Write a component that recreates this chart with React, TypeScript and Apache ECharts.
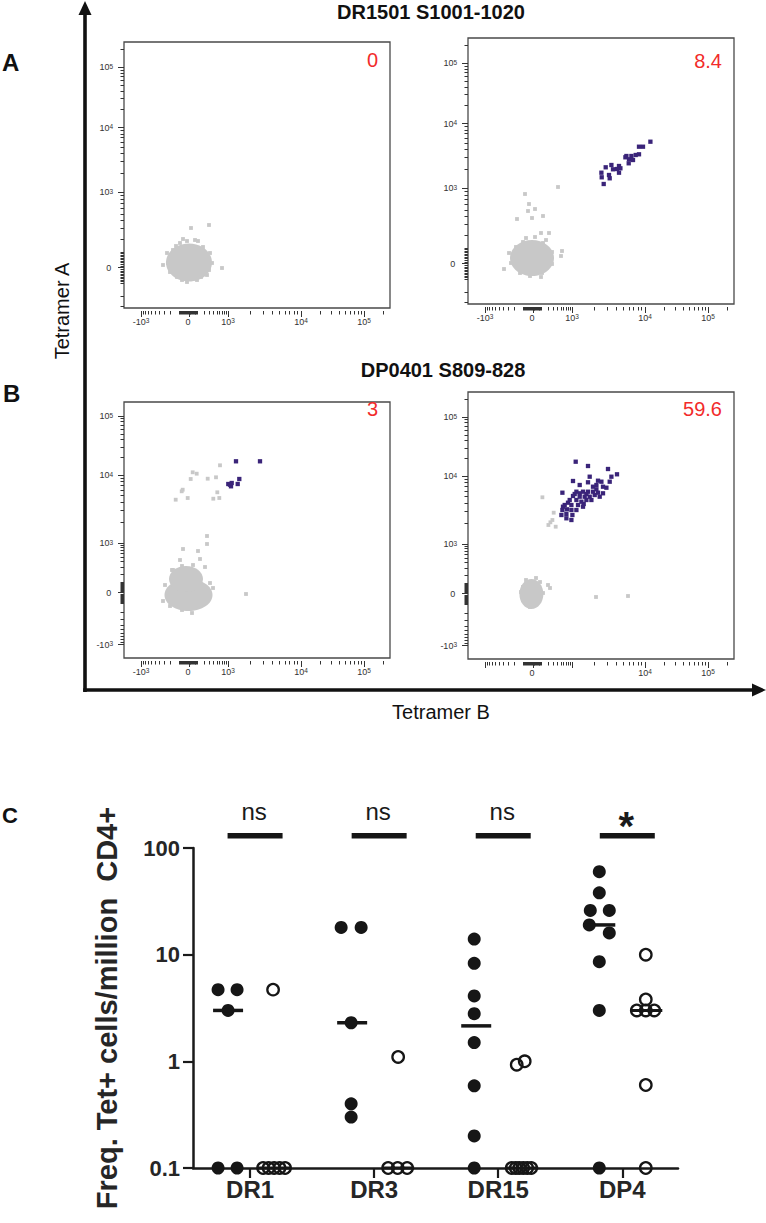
import React, { useEffect, useRef } from "react";
import * as echarts from "echarts";

const FONT = "'Liberation Sans', Arial, Helvetica, sans-serif";

// ---------------- Panels A & B : flow cytometry (display channels) ----------------
const DECADE_VALUES = [-1000, 0, 1000, 10000, 100000];
const DECADE_BASE = ["-10", "0", "10", "10", "10"];
const DECADE_EXP = ["3", "", "3", "4", "5"];
const X_DECADE_CH = [17, 65, 104, 177, 240];
const A_Y_DECADE_CH = [-35, 40.5, 115.7, 180.5, 241];
const B_Y_DECADE_CH = [13.5, 65.3, 115, 183, 242];

const PANEL_TITLES = ["DR1501 S1001-1020", "DP0401 S809-828"];
const GATE_PERCENT = ["0", "8.4", "3", "59.6"];
const X_LABELS_SHOWN = [[0, 1, 2, 3, 4], [0, 1, 2, 3, 4], [0, 1, 2, 3, 4], [1, 3, 4]];
const Y_LABELS_SHOWN = [[1, 2, 3, 4], [1, 2, 3, 4], [0, 1, 2, 3, 4], [0, 1, 2, 3, 4]];

// dense populations: [centre x, centre y, spread x, spread y]
const A1_CORE = [[65, 45.5, 23, 19]];
const A2_CORE = [[64, 46, 22, 18]];
const B1_CORE = [[64.5, 63, 24, 16], [62, 79, 17, 13]];
const B2_CORE = [[63.4, 65, 12, 15]];

const A1_GRAY = [
  [43, 55], [44, 45], [49, 58], [56, 65], [63, 67], [71, 68], [79, 61], [86, 55], [88, 45], [83, 33],
  [73, 28], [63, 26], [53, 31], [46, 36], [67, 80], [85, 83], [39, 43], [98, 40], [59, 69], [74, 67],
  [48, 40], [52, 62], [82, 52], [77, 31], [58, 28], [85, 38],
];
const A1_PURPLE: number[][] = [];

const A2_GRAY = [
  [41, 51], [43, 41], [48, 57], [58, 66], [67, 67], [75, 61], [84, 52], [84, 40], [74, 31], [62, 28],
  [52, 31], [78, 64], [55, 62], [36, 35], [57, 110], [61, 100], [60, 93], [67, 95], [64, 86], [49, 85],
  [75, 88], [90, 117], [73, 71], [81, 71], [94, 53], [93, 48], [73, 27],
];
const A2_PURPLE = [
  [182.4, 162.3], [175, 157.3], [171, 157.3], [167.7, 149], [171, 149.7], [163.4, 148], [158.4, 148],
  [161, 144.7], [160.7, 140.7], [157.4, 146.7], [151, 138], [152.4, 135.7], [149, 135], [151, 131.3],
  [145, 134.7], [143.4, 139], [137.7, 136.7], [141, 129], [141.7, 125.7], [133.4, 131.3], [133.7, 126.7],
  [135.7, 120], [165, 144],
];

const B1_GRAY = [
  [39, 57], [41, 73], [49, 88], [58, 92], [69, 93], [76, 99], [81, 91], [86, 75], [89, 70], [83, 57],
  [68, 45], [58, 48], [46, 52], [59, 109], [74, 107], [83, 122], [83, 114], [56, 98], [48, 88], [122, 64],
  [96, 192.7], [68.7, 185.7], [72.7, 184.3], [66.7, 179], [58.7, 168.3], [57.7, 166.7], [51.7, 158.3],
  [63.7, 160], [83.7, 179.3], [92, 180.7], [89.3, 159.3], [95.3, 160], [93.3, 165.7],
];
const B1_PURPLE = [
  [112, 196.7], [136, 196.7], [115.3, 179], [113.7, 174], [106, 173.3], [104.3, 174], [107, 171.7], [107.7, 175],
];

const B2_GRAY = [
  [55, 72], [58, 79], [68, 81], [72, 77], [75, 66], [70, 57], [62, 52], [55, 59], [53, 67], [80, 74],
  [82, 71], [128, 62], [160, 63], [74.4, 161.7], [85.7, 146.3], [82.4, 136.7], [84.4, 139], [87.7, 132.3],
  [80.4, 134],
];
const B2_PURPLE = [
  [107.7, 197.3], [120, 193], [140, 190], [149, 184.7], [143.4, 182.3], [121.7, 182.3], [105, 178],
  [130, 178.3], [133.4, 177.3], [141.7, 177.3], [111.7, 174], [120, 176.7], [128.4, 174], [135, 172.3],
  [138.4, 171.3], [94.4, 166.3], [108.4, 167.3], [115, 167.3], [120, 167.3], [125, 167.3], [130, 166.3],
  [135, 165.7], [105, 163], [111.7, 162.3], [116.7, 162.3], [121.7, 162.3], [126.7, 164], [131.7, 162.3],
  [108.4, 159], [113.4, 157.3], [118.4, 159], [123.4, 159], [100, 156.3], [96.7, 154], [103.4, 154],
  [110, 154], [115.7, 155], [94.4, 149], [99, 149.7], [103.4, 149], [108.4, 149], [93.4, 144], [98.4, 145],
  [104.4, 144], [103.4, 139], [98.4, 140.7], [106.7, 165], [118.4, 165], [128.4, 169.7], [125, 172.3],
  [111.7, 165.7], [95, 152.3], [101.7, 159], [115, 152.3],
];

const FLOW_CORES = [A1_CORE, A2_CORE, B1_CORE, B2_CORE];
const FLOW_GRAY = [A1_GRAY, A2_GRAY, B1_GRAY, B2_GRAY];
const FLOW_PURPLE = [A1_PURPLE, A2_PURPLE, B1_PURPLE, B2_PURPLE];

// ---------------- Panel C ----------------
const C_CATS = ["DR1", "DR3", "DR15", "DP4"];
const C_FILLED = [
  [4.7, 4.7, 3.0, 0.1, 0.1],
  [18, 18, 2.3, 0.4, 0.3],
  [14, 8.3, 4.1, 2.8, 1.5, 0.59, 0.2, 0.1],
  [60, 38, 26, 26, 19, 16, 8.6, 3.0, 0.1],
];
const C_OPEN = [
  [4.7, 0.1, 0.1, 0.1, 0.1, 0.1],
  [1.1, 0.1, 0.1, 0.1],
  [0.93, 1.0, 0.1, 0.1, 0.1, 0.1, 0.1, 0.1],
  [10, 3.8, 3.0, 3.0, 3.0, 0.6, 0.1],
];
const C_SIG = ["ns", "ns", "ns", "*"];

// ---------------- layout ----------------
const FLOW_LAYOUT = [
  { left: 124, top: 42, width: 266, height: 266, pctY: 60 },
  { left: 468, top: 38, width: 266, height: 266, pctY: 61 },
  { left: 124, top: 402, width: 266, height: 256, pctY: 409 },
  { left: 468, top: 392, width: 266, height: 267, pctY: 409 },
];
const C_GRID = { left: 193, top: 848, width: 485, height: 320 };
const C_XMIN = 0.54;
const C_XMAX = 4.449;
const PX_PER_CAT = C_GRID.width / (C_XMAX - C_XMIN);
// beeswarm offsets (px) from category centre
const C_FILLED_JIT = [
  [-32, -13, -22, -32, -13],
  [-33, -13, -23, -23, -23],
  [-24, -24, -24, -24, -24, -24, -24, -24],
  [-23, -23, -32, -13, -33, -13, -23, -23, -23],
];
const C_OPEN_JIT = [
  [23, 13, 18.5, 24, 29.5, 35],
  [24, 14, 23.5, 33],
  [18.5, 26.5, 13.5, 17.5, 21, 25, 29, 33],
  [23.5, 23.5, 14.5, 23.5, 32, 23.5, 23.5],
];

function decadeMap(pos: number[]) {
  const [pn, p0, p3, p4, p5] = pos;
  const w = 200;
  const A = Math.asinh(1000 / w);
  return (v: number) => {
    if (v >= 1000) {
      const k = Math.log10(v);
      return k <= 4 ? p3 + (k - 3) * (p4 - p3) : p4 + (k - 4) * (p5 - p4);
    }
    if (v <= -1000) return pn - (Math.log10(-v) - 3) * (p4 - p3);
    if (v >= 0) return p0 + ((p3 - p0) * Math.asinh(v / w)) / A;
    return p0 - ((p0 - pn) * Math.asinh(-v / w)) / A;
  };
}

function minorTicks(pos: number[], max: number) {
  const f = decadeMap(pos);
  const out: number[] = [];
  for (const d of [10, 100, 1000, 10000, 100000]) {
    for (let m = 1; m <= 9; m++) {
      if (m === 1 && d >= 1000) continue;
      for (const s of [1, -1]) {
        if (s < 0 && d > 1000) continue;
        const p = f(s * d * m);
        if (p >= 0 && p <= max) out.push(p);
      }
    }
  }
  return out;
}

function median(a: number[]) {
  const s = [...a].sort((x, y) => x - y);
  const n = s.length;
  return n % 2 ? s[(n - 1) / 2] : (s[n / 2 - 1] + s[n / 2]) / 2;
}

const labelRich = {
  b: { fontSize: 9, lineHeight: 9, color: "#333", fontFamily: FONT, verticalAlign: "bottom" },
  s: { fontSize: 6.5, lineHeight: 7, padding: [0, 0, 6, 0], color: "#333", fontFamily: FONT, verticalAlign: "top" },
};

function flowAxes(i: number, dim: "x" | "y", pos: number[], max: number, shown: number[]) {
  const base: any = {
    gridIndex: i,
    type: "value",
    min: 0,
    max,
    position: dim === "x" ? "bottom" : "left",
    offset: dim === "x" ? 3 : 0,
    axisLine: { show: false, onZero: false },
    splitLine: { show: false },
  };
  const majors = pos.filter((p) => p >= 0 && p <= max);
  const labelPos = shown.map((k) => pos[k]).filter((p) => p >= 0 && p <= max);
  const major = {
    ...base,
    axisTick: { show: true, customValues: majors, length: 6, lineStyle: { color: "#333", width: 1 } },
    axisLabel: {
      show: true,
      customValues: labelPos,
      margin: dim === "x" ? 6 : 11,
      formatter: (v: number) => {
        const k = pos.findIndex((p) => Math.abs(p - v) < 1e-6);
        if (k < 0) return "";
        return `{b|${DECADE_BASE[k]}}{s|${DECADE_EXP[k] || " "}}`;
      },
      rich: labelRich,
    },
  };
  const minor = {
    ...base,
    axisTick: { show: true, customValues: minorTicks(pos, max), length: 3.5, lineStyle: { color: "#333", width: 1 } },
    axisLabel: { show: false },
  };
  return [major, minor];
}

function buildOption() {
  const grid: any[] = [];
  const xAxis: any[] = [];
  const yAxis: any[] = [];
  const series: any[] = [];
  const graphic: any[] = [];

  FLOW_LAYOUT.forEach((g, i) => {
    grid.push({
      left: g.left, top: g.top, width: g.width, height: g.height,
      show: true, borderColor: "#4a4a4a", borderWidth: 1.3, backgroundColor: "transparent",
    });
    const yPos = i < 2 ? A_Y_DECADE_CH : B_Y_DECADE_CH;
    xAxis.push(...flowAxes(i, "x", X_DECADE_CH, g.width, X_LABELS_SHOWN[i]));
    yAxis.push(...flowAxes(i, "y", yPos, g.height, Y_LABELS_SHOWN[i]));
    series.push({
      type: "custom",
      xAxisIndex: 2 * i,
      yAxisIndex: 2 * i,
      data: FLOW_CORES[i],
      renderItem: (_p: any, api: any) => {
        const c = api.coord([api.value(0), api.value(1)]);
        const s = api.size([api.value(2), api.value(3)]);
        return { type: "ellipse", shape: { cx: c[0], cy: c[1], rx: s[0], ry: s[1] }, style: { fill: "#c8c8c8" } };
      },
      z: 1,
    });
    series.push({
      type: "scatter", xAxisIndex: 2 * i, yAxisIndex: 2 * i, data: FLOW_GRAY[i],
      symbol: "rect", symbolSize: 3.8, itemStyle: { color: "#c8c8c8", opacity: 1 }, z: 2,
    });
    series.push({
      type: "scatter", xAxisIndex: 2 * i, yAxisIndex: 2 * i, data: FLOW_PURPLE[i],
      symbol: "rect", symbolSize: 4.3, itemStyle: { color: "#3a2479", opacity: 1 }, z: 3,
    });
    graphic.push({
      type: "text",
      x: g.left + g.width - 12,
      y: g.pctY,
      style: {
        text: GATE_PERCENT[i], fill: "#f22b2b", fontSize: 20, fontFamily: FONT,
        textAlign: "right", align: "right", textVerticalAlign: "middle", verticalAlign: "middle",
      },
    });
  });

  // ---------- panel C ----------
  grid.push({ ...C_GRID });
  xAxis.push({
    gridIndex: 4, type: "value", min: C_XMIN, max: C_XMAX,
    axisLine: { show: true, onZero: false, lineStyle: { color: "#1a1a1a", width: 2.5 } },
    axisTick: { show: true, customValues: [1, 2, 3, 4], length: 10, lineStyle: { color: "#1a1a1a", width: 2.2 } },
    axisLabel: {
      customValues: [1, 2, 3, 4], margin: 9,
      formatter: (v: number) => C_CATS[Math.round(v) - 1] || "",
      fontSize: 24, fontWeight: "bold", color: "#262626", fontFamily: FONT,
    },
    splitLine: { show: false },
  });
  yAxis.push({
    gridIndex: 4, type: "log", logBase: 10, min: 0.1, max: 100,
    axisLine: { show: true, onZero: false, lineStyle: { color: "#1a1a1a", width: 2.5 } },
    axisTick: { show: true, length: 10, lineStyle: { color: "#1a1a1a", width: 2.2 } },
    axisLabel: {
      margin: 13, fontSize: 22, fontWeight: "bold", color: "#262626", fontFamily: FONT,
      formatter: (v: number) => (v >= 1 ? String(Math.round(v)) : String(+v.toFixed(1))),
    },
    splitLine: { show: false },
    minorTick: { show: false },
    name: "Freq. Tet+ cells/million  CD4+",
    nameLocation: "middle",
    nameGap: 72,
    nameRotate: 90,
    nameTextStyle: { fontSize: 29, fontWeight: "bold", color: "#262626", fontFamily: FONT },
  });

  const filled = C_FILLED.flatMap((vals, i) => vals.map((v, j) => [i + 1 + C_FILLED_JIT[i][j] / PX_PER_CAT, v]));
  const open = C_OPEN.flatMap((vals, i) => vals.map((v, j) => [i + 1 + C_OPEN_JIT[i][j] / PX_PER_CAT, v]));
  const medFilled = C_FILLED.map((vals, i) => [i + 1 - 22 / PX_PER_CAT, median(vals)]);
  const medOpen = C_OPEN.map((vals, i) => [i + 1 + 24 / PX_PER_CAT, median(vals)]);
  const sigBars = C_SIG.map((_, i) => [i + 1 + 5 / PX_PER_CAT, 130]);
  const sigText = C_SIG.map((s, i) => ({
    value: [i + 1 + 4 / PX_PER_CAT, s === "*" ? 160 : 222],
    name: s,
    label: s === "*" ? { fontSize: 40, fontWeight: "bold" } : { fontSize: 24 },
  }));

  series.push({
    type: "scatter", xAxisIndex: 8, yAxisIndex: 8, data: filled, symbol: "circle", symbolSize: 13,
    itemStyle: { color: "#161616", opacity: 1 }, z: 3,
  });
  series.push({
    type: "scatter", xAxisIndex: 8, yAxisIndex: 8, data: open, symbol: "circle", symbolSize: 11.5,
    itemStyle: { color: "rgba(0,0,0,0)", borderColor: "#161616", borderWidth: 2.3, opacity: 1 }, z: 3,
  });
  series.push({
    type: "scatter", xAxisIndex: 8, yAxisIndex: 8, data: medFilled, symbol: "rect", symbolSize: [30, 3.5],
    itemStyle: { color: "#161616", opacity: 1 }, z: 4,
  });
  series.push({
    type: "scatter", xAxisIndex: 8, yAxisIndex: 8, data: medOpen, symbol: "rect", symbolSize: [32, 3],
    itemStyle: { color: "#161616", opacity: 1 }, z: 4,
  });
  series.push({
    type: "scatter", xAxisIndex: 8, yAxisIndex: 8, data: sigBars, symbol: "rect", symbolSize: [55, 5.5],
    itemStyle: { color: "#161616", opacity: 1 }, clip: false, z: 4,
  });
  series.push({
    type: "scatter", xAxisIndex: 8, yAxisIndex: 8, data: sigText, symbolSize: 1, clip: false,
    itemStyle: { color: "rgba(0,0,0,0)", opacity: 1 },
    label: {
      show: true, position: "inside",
      formatter: (p: any) => p.name,
      fontFamily: FONT, color: "#1a1a1a", opacity: 1,
      fontSize: 24,
    },
    z: 4,
  });

  // ---------- decorations ----------
  graphic.push(
    { type: "line", shape: { x1: 85, y1: 692, x2: 85, y2: 12 }, style: { stroke: "#111", lineWidth: 3.6 } },
    { type: "polygon", shape: { points: [[85, 1], [78.5, 15], [91.5, 15]] }, style: { fill: "#111" } },
    { type: "line", shape: { x1: 83.2, y1: 690, x2: 754, y2: 690 }, style: { stroke: "#111", lineWidth: 3.6 } },
    { type: "polygon", shape: { points: [[766, 690], [752, 683.5], [752, 696.5]] }, style: { fill: "#111" } },
  );
  const txt = (text: string, x: number, y: number, size: number, bold: boolean, align = "center", rotation = 0) => ({
    type: "text", x, y, rotation,
    style: {
      text, fill: "#111", fontSize: size, fontWeight: bold ? "bold" : "normal", fontFamily: FONT,
      textAlign: align, align, textVerticalAlign: "middle", verticalAlign: "middle",
    },
  });
  graphic.push(
    txt("Tetramer A", 62, 311, 20, false, "center", Math.PI / 2),
    txt("Tetramer B", 441, 712, 20, false),
    txt(PANEL_TITLES[0], 431, 12, 20, true),
    txt(PANEL_TITLES[1], 443, 370, 20, true),
    txt("A", 2, 62, 24, true, "left"),
    txt("B", 3, 393, 24, true, "left"),
    txt("C", 2, 815, 22, true, "left"),
  );

  return { animation: false, backgroundColor: "#fff", grid, xAxis, yAxis, series, graphic };
}

export default function App() {
  const ref = useRef<HTMLDivElement>(null);
  useEffect(() => {
    const chart = echarts.init(ref.current!, null, { renderer: "svg" });
    chart.setOption(buildOption() as any);
    return () => chart.dispose();
  }, []);
  return (
    <div
      ref={ref}
      style={{ position: "absolute", left: 0, top: 0, width: 766, height: 1223, background: "#fff" }}
    />
  );
}
